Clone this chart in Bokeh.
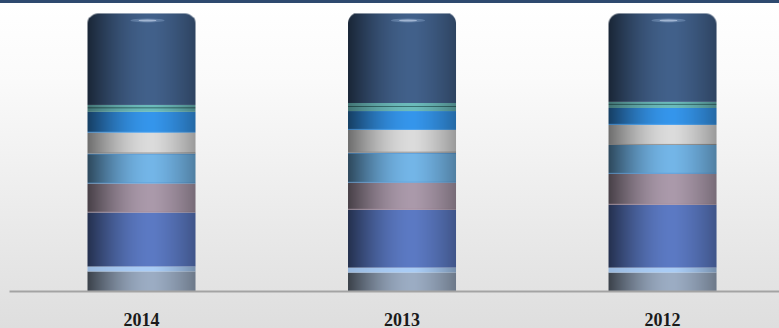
import math
import numpy as np
from bokeh.plotting import figure
from bokeh.models import Range1d, FixedTicker, ColumnDataSource
from bokeh.embed import file_html
from bokeh.resources import INLINE

# ---- data (percent share of each layer, bottom to top) ----
years = ["2014", "2013", "2012"]
layer_names = ["Layer 1", "Layer 2", "Layer 3", "Layer 4", "Layer 5",
               "Layer 6", "Layer 7", "Layer 8", "Layer 9"]
layer1 = [7.2, 6.8, 6.8]
layer2 = [1.8, 1.8, 1.8]
layer3 = [19.4, 20.8, 22.6]
layer4 = [10.4, 9.7, 11.1]
layer5 = [10.8, 10.8, 10.4]
layer6 = [7.5, 8.2, 7.2]
layer7 = [7.5, 6.8, 6.1]
layer8 = [2.5, 2.9, 2.2]
layer9 = [32.9, 32.2, 31.8]
layers = [layer1, layer2, layer3, layer4, layer5, layer6, layer7, layer8, layer9]

# ---- styling ----
peak_colors = ["#9cadc4", "#aacdf6", "#5c7ac4", "#ab9aab", "#74b6e8",
               "#dcdcdc", "#3596ec", "#6cbcbc", "#42618b"]
low_factor = [0.38, 0.90, 0.40, 0.42, 0.40, 0.50, 0.42, 0.62, 0.40]
edge_top = [None, None, None, None, "#5c9fdc", None, None, None, None]
edge_bottom = [None, None, None, "#a88fa0", "#5c9fdc", "#9a9a9a", "#4aa2f0", None, None]
mid_line = [None, None, None, None, None, None, None, "#3a7374", None]

W, H = 779, 328
BL, BB = 9, 36
x_start, x_end = -0.0067, 2.949
y_end = 104.66
px_per_x = (W - BL) / (x_end - x_start)
px_per_y = (H - BB) / y_end
bar_px = 108
bar_w = bar_px / px_per_x
radius_px = 11.0


def hex_rgb(hexc):
    h = hexc.lstrip("#")
    return np.array([int(h[i:i + 2], 16) for i in (0, 2, 4)], dtype=float)


t = (np.arange(bar_px) + 0.5) / bar_px


def profile(lo, hi=0.70):
    f = np.where(t < 0.6,
                 lo + (1 - lo) * np.sin(np.pi / 2 * np.clip(t / 0.6, 0, 1)),
                 1 - (1 - hi) * (np.clip((t - 0.6) / 0.4, 0, 1)) ** 1.4)
    return f


def row_colors(hexc, lo):
    return np.clip(hex_rgb(hexc)[None, :] * profile(lo)[:, None], 0, 255)


def seg_image(s, height_px, round_top):
    rows = max(1, int(round(height_px)))
    rgba = np.zeros((rows, bar_px, 4), dtype=float)
    rgba[:, :, :3] = row_colors(peak_colors[s], low_factor[s])[None, :, :]
    rgba[:, :, 3] = 255
    # image row 0 is the bottom
    if edge_bottom[s] and rows > 3:
        rgba[0, :, :3] = row_colors(edge_bottom[s], 0.75)
    if edge_top[s] and rows > 3:
        rgba[rows - 1, :, :3] = row_colors(edge_top[s], 0.75)
    if mid_line[s] and rows > 3:
        m = rows // 2
        rgba[m, :, :3] = row_colors(mid_line[s], 0.6)
    if round_top:
        r = radius_px
        for j in range(min(rows, int(r) + 2)):
            row = rows - 1 - j
            yc = j + 0.5
            for c in range(int(r) + 2):
                xc = c + 0.5
                if xc < r and yc < r:
                    dist = math.hypot(r - xc, r - yc)
                    a = max(0.0, min(1.0, r - dist + 0.5))
                    rgba[row, c, 3] = 255 * a
                    rgba[row, bar_px - 1 - c, 3] = 255 * a
    img = rgba.astype(np.uint8)
    return img.view(dtype=np.uint32).reshape((rows, bar_px))


images, xs, ys, dws, dhs = [], [], [], [], []
for i, yr in enumerate(years):
    base = 0.0
    for s, layer in enumerate(layers):
        v = layer[i]
        images.append(seg_image(s, v * px_per_y, s == len(layers) - 1))
        xs.append(i + 0.5 - bar_w / 2)
        ys.append(base)
        dws.append(bar_w)
        dhs.append(v)
        base += v

src = ColumnDataSource(dict(image=images, x=xs, y=ys, dw=dws, dh=dhs))

p = figure(width=W, height=H, x_range=Range1d(x_start, x_end), y_range=Range1d(0, y_end),
           output_backend="svg", toolbar_location=None,
           min_border_left=BL, min_border_right=0, min_border_top=0, min_border_bottom=BB)
p.background_fill_color = None
p.border_fill_color = None
p.outline_line_color = None
p.styles = {
    "background": "linear-gradient(to bottom, #2e4a6f 0px, #2e4a6f 3px, #ffffff 3px, #fafafa 25%, #dedede 100%)",
}

p.image_rgba(image="image", x="x", y="y", dw="dw", dh="dh", source=src)

# top highlight on each cylinder cap
totals = [sum(l[i] for l in layers) for i in range(len(years))]
hl = ColumnDataSource(dict(x=[i + 0.5 + 6 / px_per_x for i in range(len(years))],
                           y=[tt - 7 / px_per_y for tt in totals]))
p.ellipse(x="x", y="y", width=34 / px_per_x, height=4 / px_per_y, source=hl,
          fill_color="#8fa9cc", fill_alpha=0.4, line_color=None)
p.ellipse(x="x", y="y", width=18 / px_per_x, height=2 / px_per_y, source=hl,
          fill_color="#c4d4ea", fill_alpha=0.65, line_color=None)

p.yaxis.visible = False
p.xgrid.visible = False
p.ygrid.visible = False
p.xaxis.ticker = FixedTicker(ticks=[i + 0.5 for i in range(len(years))])
p.xaxis.major_label_overrides = {i + 0.5: yr for i, yr in enumerate(years)}
p.xaxis.axis_line_color = "#a3a3a3"
p.xaxis.axis_line_width = 2
p.xaxis.major_tick_line_color = None
p.xaxis.minor_tick_line_color = None
p.xaxis.major_label_text_font = "Liberation Serif"
p.xaxis.major_label_text_font_style = "bold"
p.xaxis.major_label_text_font_size = "18px"
p.xaxis.major_label_text_color = "#1a1a1a"
p.xaxis.major_label_standoff = 15

open("out.html", "w").write(file_html(p, INLINE))
